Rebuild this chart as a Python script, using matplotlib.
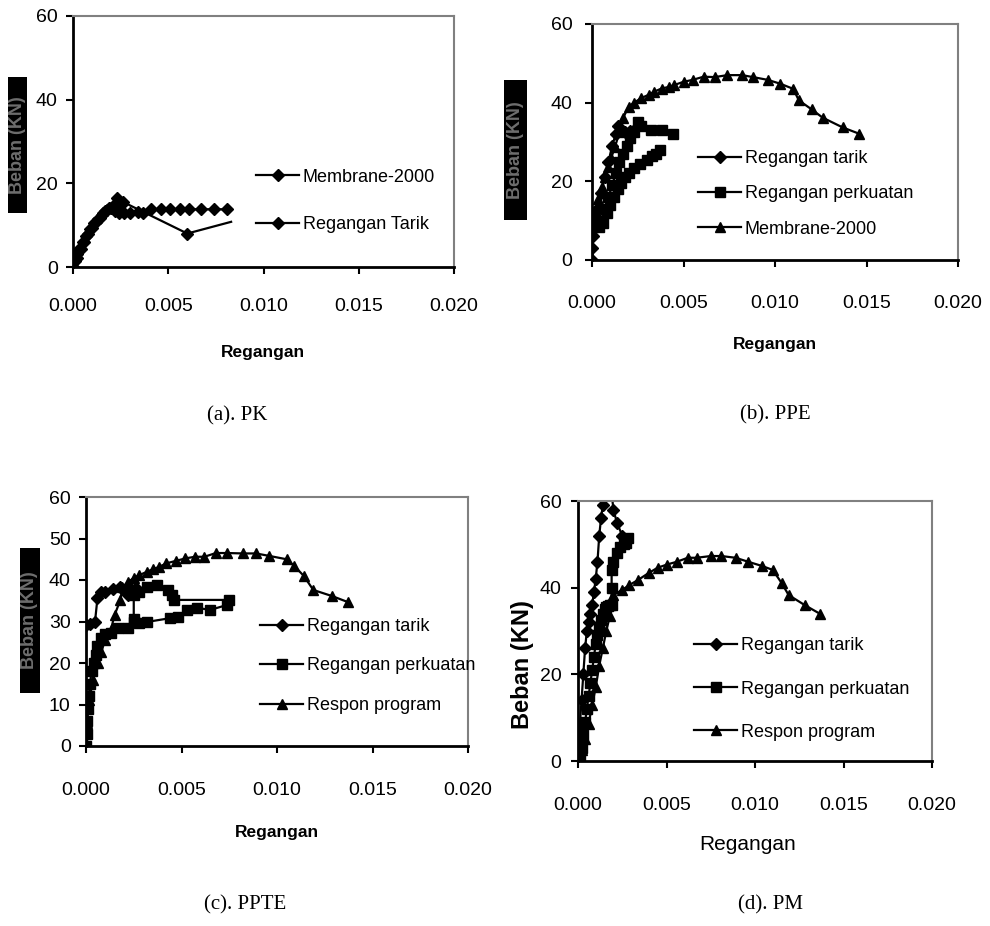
import numpy as np
import matplotlib
matplotlib.use("Agg")
import matplotlib.pyplot as plt
from matplotlib.patches import Rectangle

plt.rcParams['font.family'] = ['Liberation Sans', 'DejaVu Sans']

# ---- (a) PK ----
a_mem_x = [0, 0.0002, 0.0004, 0.0006, 0.0008, 0.001, 0.0012, 0.0014, 0.0016, 0.0018, 0.002,
           0.0022, 0.0024, 0.0027, 0.0030, 0.0034, 0.0037, 0.0041, 0.0046, 0.0051, 0.0056,
           0.0061, 0.0067, 0.0074, 0.0081]
a_mem_y = [0, 2.2, 4.2, 6.0, 7.8, 9.4, 10.8, 11.8, 12.8, 13.6, 14.2,
           13.4, 13.0, 13.0, 13.0, 13.2, 13.0, 13.8, 13.8, 13.8, 13.8,
           13.8, 13.8, 13.8, 13.8]
a_tar_x = [0, 0.0001, 0.0002, 0.0003, 0.0005, 0.0007, 0.0009, 0.0011, 0.0013, 0.0015,
           0.0017, 0.0019, 0.0021, 0.0023, 0.0025, 0.0026, 0.006, 0.0083]
a_tar_y = [0, 1.5, 3, 4.2, 6, 7.5, 9, 10.5, 11.5, 12.5,
           13.3, 14, 14.5, 16.5, 14.8, 15.6, 8, 10.8]

# ---- (b) PPE ----
b_tar_x = [0, 0.00002, 0.00005, 0.0001, 0.0002, 0.0003, 0.0005, 0.0007, 0.0009, 0.0011,
           0.0013, 0.0014, 0.0016, 0.0018, 0.0021, 0.0024, 0.0026]
b_tar_y = [0, 3, 6, 9, 11, 13, 17, 21, 25, 29,
           32, 34, 33, 32.5, 32.8, 33.5, 34.5]
b_per_x = [0.0001, 0.0004, 0.0006, 0.0008, 0.001, 0.0012, 0.0014, 0.0016, 0.0018, 0.002,
           0.0023, 0.0026, 0.003, 0.0033, 0.0035, 0.0037, np.nan,
           0.0005, 0.0007, 0.0009, 0.0011, 0.0013, 0.0015, 0.0017, 0.0019, 0.0021, 0.0023,
           0.0025, 0.0027, 0.0032, 0.0038, 0.0044]
b_per_y = [9, 8.5, 9.5, 12, 14, 16, 18, 19.5, 21, 22,
           23.5, 24.5, 25.5, 26.5, 27, 28, np.nan,
           10, 13, 16, 19, 22, 25, 27, 29, 31, 32.5,
           35, 34, 33, 33, 32]
b_mem_x = [0.00005, 0.00016, 0.00035, 0.00055, 0.0007, 0.00087, 0.00105, 0.00126, 0.0015, 0.0017,
           0.002, 0.0023, 0.0027, 0.0031, 0.0034, 0.0038, 0.0042, 0.0045, 0.005, 0.0055,
           0.0061, 0.0067, 0.0074, 0.0082, 0.0088, 0.0096, 0.0103, 0.011, 0.0113, 0.012,
           0.0126, 0.0137, 0.0146]
b_mem_y = [8.5, 12, 15.5, 18.6, 21, 23.7, 26, 28.8, 32.5, 36.1,
           39, 40, 41.2, 42, 42.8, 43.6, 44, 44.5, 45.3, 45.8,
           46.6, 46.5, 47, 47, 46.5, 45.8, 44.8, 43.5, 40.6, 38.3,
           36.2, 33.7, 32.1]

# ---- (c) PPTE ----
c_tar_x = [0, 0.0002, 0.00047, 0.0006, 0.0008, 0.001, 0.0014, 0.0018, 0.002, 0.0022, 0.0024, 0.0026]
c_tar_y = [29.2, 29.3, 29.9, 35.6, 37.1, 37.2, 37.8, 38.4, 37.5, 36.5, 37.5, 38]
c_per_x = [0, 0.00003, 0.00006, 0.0001, 0.00015, 0.0002, 0.0003, 0.0004, 0.0005, 0.0006,
           0.0008, 0.001, 0.0013, 0.0017, 0.0022, 0.0025, 0.0028, 0.0032, 0.0044, 0.0048,
           0.0053, 0.0058, 0.0065, 0.0074, 0.0075, 0.0046, 0.0045, 0.0043, 0.0037, 0.0032,
           0.0028, 0.0025, 0.0025]
c_per_y = [0, 3, 6, 9, 12, 15, 18, 20, 22, 24,
           26, 27, 27.2, 28.4, 28.4, 29.9, 29.6, 29.9, 30.8, 31.1,
           32.8, 33.3, 32.8, 34, 35.2, 35.2, 36.4, 37.6, 38.8, 38.3,
           37.1, 36.5, 30.5]
c_res_x = [0, 0.00005, 0.00017, 0.00037, 0.00063, 0.0008, 0.001, 0.0013, 0.0015, 0.0018,
           0.0019, 0.0022, 0.0025, 0.0028, 0.0032, 0.0035, 0.0038, 0.0042, 0.0047, 0.0052,
           0.0057, 0.0062, 0.0068, 0.0074, 0.0082, 0.0089, 0.0096, 0.0105, 0.0109, 0.0114,
           0.0119, 0.0129, 0.0137]
c_res_y = [0.7, 5.5, 11, 16, 20, 22.7, 25.5, 28, 31.6, 35.2,
           38.3, 39.5, 40.5, 41.2, 42, 42.6, 43.1, 44, 44.6, 45.2,
           45.6, 45.6, 46.5, 46.5, 46.4, 46.4, 45.8, 45, 43.4, 41,
           37.6, 36.1, 34.7]

# ---- (d) PM ----
d_tar_x = [0, 0.00005, 0.0001, 0.0002, 0.0003, 0.0004, 0.0005, 0.0006, 0.0007, 0.0008,
           0.0009, 0.001, 0.0011, 0.0012, 0.0013, 0.0014, 0.0016, 0.0019, 0.002, 0.0022, 0.0025]
d_tar_y = [0, 4, 8, 14, 20, 26, 30, 32, 34, 36,
           39, 42, 46, 52, 56, 59, 62, 62, 58, 55, 52]
d_per_x = [0, 0.0001, 0.0002, 0.0003, 0.0004, 0.0005, 0.0006, 0.0007, 0.0008, 0.0009,
           0.001, 0.0011, 0.0012, 0.0013, 0.0014, 0.0015, 0.0016, 0.0017, 0.0018, 0.0019,
           0.0019, 0.0019, 0.002, 0.0022, 0.0024, 0.0026, 0.0027, 0.0028]
d_per_y = [0, 1, 3, 6, 9, 12, 15, 18, 21, 24,
           27, 29, 31, 32.5, 34, 35, 35.5, 35.8, 36, 36,
           40, 44, 46, 48, 49.5, 50, 50.3, 51.5]
d_res_x = [0, 0.0002, 0.0004, 0.0006, 0.0008, 0.001, 0.0012, 0.0014, 0.0016, 0.0018,
           0.0019, 0.002, 0.0025, 0.0029, 0.0034, 0.004, 0.0045, 0.005, 0.0056, 0.0062,
           0.0067, 0.0075, 0.0081, 0.0089, 0.0096, 0.0104, 0.011, 0.0115, 0.0119, 0.0128, 0.0137]
d_res_y = [0, 2.5, 5, 8.5, 13, 17, 22, 26, 30, 33.5,
           36.5, 38.3, 39.5, 40.6, 41.8, 43.4, 44.6, 45.3, 46, 46.9,
           46.9, 47.3, 47.3, 46.9, 46, 45, 44.1, 41.1, 38.3, 36, 33.9]

xticks = [0, 0.005, 0.010, 0.015, 0.020]

W, H = 990, 926
fig = plt.figure(figsize=(9.9, 9.26), dpi=100)


def px_axes(l, r, t, b):
    return fig.add_axes([l / W, 1 - b / H, (r - l) / W, (b - t) / H])


def style(ax, yticks, xpad, ypad):
    ax.set_xlim(0, 0.02)
    ax.set_ylim(0, 60)
    ax.set_xticks(xticks)
    ax.set_xticklabels(['%.3f' % v for v in xticks])
    ax.set_yticks(yticks)
    for s in ['left', 'bottom']:
        ax.spines[s].set_linewidth(2)
        ax.spines[s].set_color('black')
    for s in ['top', 'right']:
        ax.spines[s].set_linewidth(1.5)
        ax.spines[s].set_color('#808080')
    ax.tick_params(axis='x', direction='out', length=5, width=1.5, labelsize=14, pad=xpad)
    ax.tick_params(axis='y', direction='out', length=5, width=1.5, labelsize=14, pad=ypad)


def dark_ylabel(l, r, t, b):
    # scanned label: grey bold text on a black box
    fig.patches.append(Rectangle((l / W, 1 - b / H), (r - l) / W, (b - t) / H,
                                 transform=fig.transFigure, facecolor='black',
                                 edgecolor='none', zorder=1))
    fig.text((l + r) / 2 / W, 1 - (t + b) / 2 / H, 'Beban (KN)', rotation=90,
             ha='center', va='center', fontsize=13, fontweight='bold', color='#6e6e6e',
             zorder=2)


def legend(ax, handles, labels, x, y, spacing):
    ax.legend(handles, labels, loc='center left', bbox_to_anchor=(x / W, 1 - y / H),
              bbox_transform=fig.transFigure, frameon=False, fontsize=13,
              handlelength=2.4, handletextpad=0.2, labelspacing=spacing,
              borderpad=0, borderaxespad=0)


kw = dict(color='black', lw=1.6)
dia = dict(marker='D', ms=6)
sq = dict(marker='s', ms=6.5)
tri = dict(marker='^', ms=7.5)

# (a)
ax = px_axes(73, 454, 16, 267)
h1, = ax.plot(a_mem_x, a_mem_y, **dia, **kw)
h2, = ax.plot(a_tar_x, a_tar_y, markevery=list(range(len(a_tar_x) - 1)), **dia, **kw)
style(ax, [0, 20, 40, 60], 17, 6)
legend(ax, [h1, h2], ['Membrane-2000', 'Regangan Tarik'], 256, 201, 1.7)
fig.text(263 / W, 1 - 352 / H, 'Regangan', ha='center', va='center', fontsize=12.5, fontweight='bold')
dark_ylabel(8, 27, 77, 213)
fig.text(237 / W, 1 - 416 / H, '(a). PK', ha='center', va='center', fontsize=15,
         family='Liberation Serif')

# (b)
ax = px_axes(592, 958, 24, 260)
h1, = ax.plot(b_tar_x, b_tar_y, **dia, **kw)
h2, = ax.plot(b_per_x, b_per_y, **sq, **kw)
h3, = ax.plot(b_mem_x, b_mem_y, **tri, **kw)
style(ax, [0, 20, 40, 60], 20, 9)
legend(ax, [h1, h2, h3], ['Regangan tarik', 'Regangan perkuatan', 'Membrane-2000'], 698, 194, 1.0)
fig.text(775 / W, 1 - 345 / H, 'Regangan', ha='center', va='center', fontsize=12.5, fontweight='bold')
dark_ylabel(504, 527, 80, 220)
fig.text(775 / W, 1 - 415 / H, '(b). PPE', ha='center', va='center', fontsize=15,
         family='Liberation Serif')

# (c)
ax = px_axes(86, 468, 497, 746)
h1, = ax.plot(c_tar_x, c_tar_y, **dia, **kw)
h2, = ax.plot(c_per_x, c_per_y, **sq, **kw)
h3, = ax.plot(c_res_x, c_res_y, **tri, **kw)
style(ax, [0, 10, 20, 30, 40, 50, 60], 21, 6)
legend(ax, [h1, h2, h3], ['Regangan tarik', 'Regangan perkuatan', 'Respon program'], 260, 666, 1.25)
fig.text(277 / W, 1 - 833 / H, 'Regangan', ha='center', va='center', fontsize=12.5, fontweight='bold')
dark_ylabel(20, 40, 548, 693)
fig.text(245 / W, 1 - 905 / H, '(c). PPTE', ha='center', va='center', fontsize=15,
         family='Liberation Serif')

# (d)
ax = px_axes(578, 932, 501, 761)
h1, = ax.plot(d_tar_x, d_tar_y, **dia, **kw)
h2, = ax.plot(d_per_x, d_per_y, **sq, **kw)
h3, = ax.plot(d_res_x, d_res_y, **tri, **kw)
style(ax, [0, 20, 40, 60], 21, 7)
legend(ax, [h1, h2, h3], ['Regangan tarik', 'Regangan perkuatan', 'Respon program'], 694, 689, 1.45)
fig.text(748 / W, 1 - 845 / H, 'Regangan', ha='center', va='center', fontsize=15)
fig.text(523 / W, 1 - 665 / H, 'Beban (KN)', rotation=90, ha='center', va='center',
         fontsize=17, fontweight='bold')
fig.text(770 / W, 1 - 905 / H, '(d). PM', ha='center', va='center', fontsize=15,
         family='Liberation Serif')

fig.savefig('out.png', dpi=100)
